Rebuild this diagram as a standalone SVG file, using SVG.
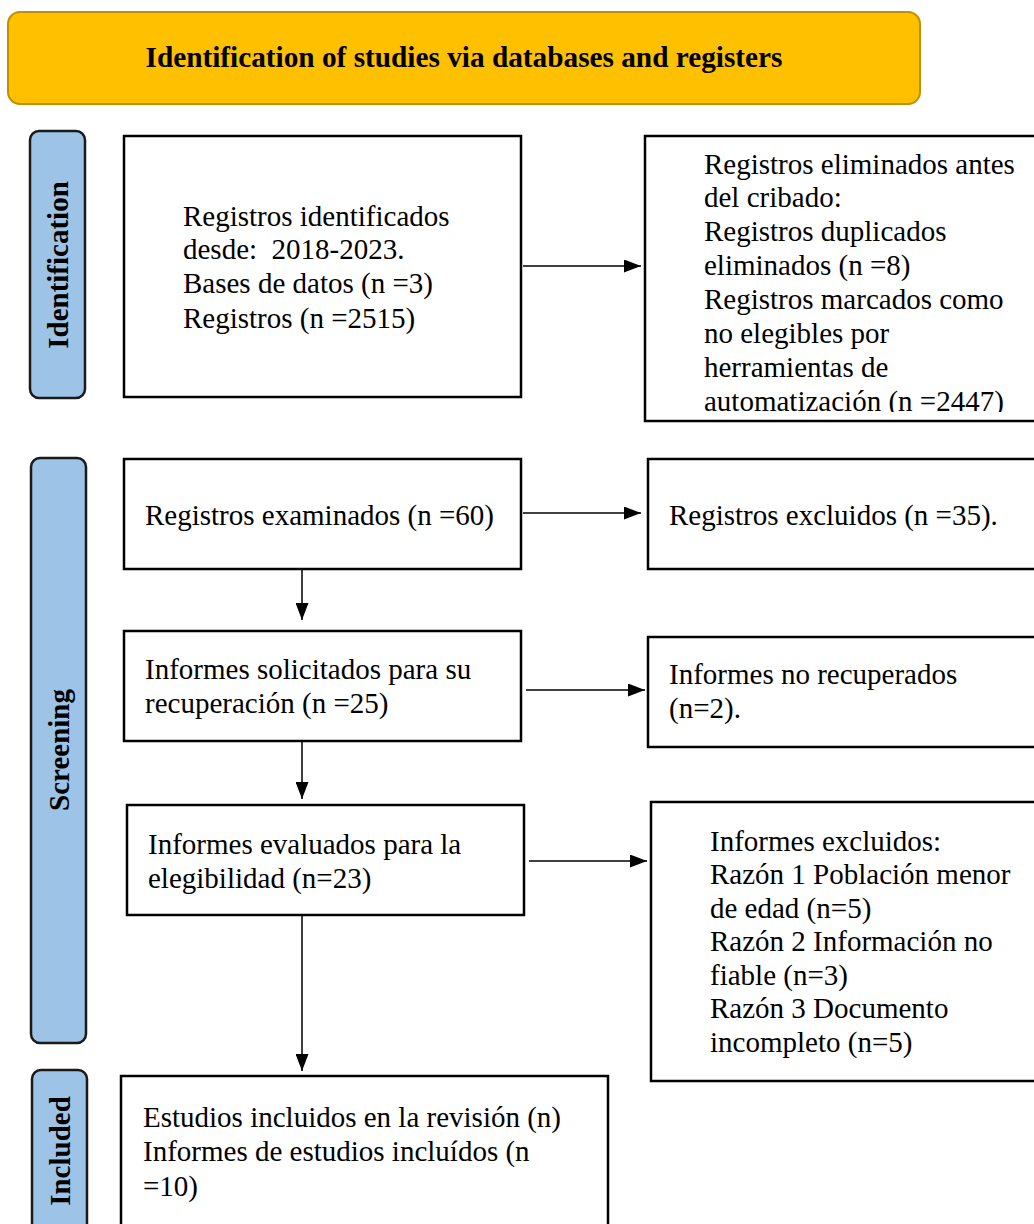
<svg xmlns="http://www.w3.org/2000/svg" width="1034" height="1224" viewBox="0 0 1034 1224">
<style>
.box{fill:#fff;stroke:#000;stroke-width:2.5}
.lab{fill:#9DC3E6;stroke:#1a1a1a;stroke-width:2.5}
.t{font-family:"Liberation Serif","Times New Roman",serif;font-size:29px;fill:#000;white-space:pre}
.lt{font-family:"Liberation Serif","Times New Roman",serif;font-size:29px;font-weight:bold;fill:#000}
.c{stroke:#000;stroke-width:1.5;fill:none}
</style>
<defs>
<marker id="ah" viewBox="0 0 10 10" refX="10" refY="5" markerWidth="17" markerHeight="13" markerUnits="userSpaceOnUse" orient="auto" preserveAspectRatio="none">
<path d="M0,0 L10,5 L0,10 Z" fill="#000"/>
</marker>
<clipPath id="clipR"><rect x="645" y="136" width="400" height="276"/></clipPath>
</defs>
<rect width="1034" height="1224" fill="#fff"/>
<g id="title">
<rect x="8" y="12" width="912" height="92" rx="12" fill="#FFC000" stroke="#BF9000" stroke-width="2"/>
<text class="lt" x="464" y="67" text-anchor="middle" textLength="637" lengthAdjust="spacingAndGlyphs">Identification of studies via databases and registers</text>
</g>
<g id="label-identification">
<rect class="lab" x="30" y="131" width="55" height="267" rx="9"/>
<text class="lt" transform="translate(68,265) rotate(-90)" text-anchor="middle">Identification</text>
</g>
<g id="label-screening">
<rect class="lab" x="31" y="458" width="55" height="585" rx="9"/>
<text class="lt" transform="translate(69,750) rotate(-90)" text-anchor="middle">Screening</text>
</g>
<g id="label-included">
<rect class="lab" x="32" y="1070" width="55" height="170" rx="9"/>
<text class="lt" transform="translate(70,1151) rotate(-90)" text-anchor="middle">Included</text>
</g>
<g id="n-identified">
<rect class="box" x="124" y="136" width="397" height="261"/>
<text class="t" x="183" y="226">Registros identificados</text>
<text class="t" x="183" y="259" xml:space="preserve">desde:  2018-2023.</text>
<text class="t" x="183" y="293">Bases de datos (n =3)</text>
<text class="t" x="183" y="328">Registros (n =2515)</text>
</g>
<g id="n-removed">
<rect class="box" x="645" y="136" width="400" height="285"/>
<g clip-path="url(#clipR)">
<text class="t" x="704" y="174">Registros eliminados antes</text>
<text class="t" x="704" y="207">del cribado:</text>
<text class="t" x="704" y="241">Registros duplicados</text>
<text class="t" x="704" y="275">eliminados (n =8)</text>
<text class="t" x="704" y="309">Registros marcados como</text>
<text class="t" x="704" y="343">no elegibles por</text>
<text class="t" x="704" y="377">herramientas de</text>
<text class="t" x="704" y="411">automatización (n =2447)</text>
</g>
</g>
<g id="n-screened">
<rect class="box" x="124" y="459" width="397" height="110"/>
<text class="t" x="145" y="525">Registros examinados (n =60)</text>
</g>
<g id="n-excluded">
<rect class="box" x="648" y="459" width="400" height="110"/>
<text class="t" x="669" y="525">Registros excluidos (n =35).</text>
</g>
<g id="n-sought">
<rect class="box" x="124" y="631" width="397" height="110"/>
<text class="t" x="145" y="679">Informes solicitados para su</text>
<text class="t" x="145" y="713">recuperación (n =25)</text>
</g>
<g id="n-notretrieved">
<rect class="box" x="648" y="637" width="400" height="110"/>
<text class="t" x="669" y="684">Informes no recuperados</text>
<text class="t" x="669" y="718">(n=2).</text>
</g>
<g id="n-assessed">
<rect class="box" x="127" y="805" width="397" height="110"/>
<text class="t" x="148" y="854">Informes evaluados para la</text>
<text class="t" x="148" y="888">elegibilidad (n=23)</text>
</g>
<g id="n-reportsexcluded">
<rect class="box" x="651" y="802" width="400" height="279"/>
<text class="t" x="710" y="851">Informes excluidos:</text>
<text class="t" x="710" y="884">Razón 1 Población menor</text>
<text class="t" x="710" y="918">de edad (n=5)</text>
<text class="t" x="710" y="951">Razón 2 Información no</text>
<text class="t" x="710" y="985">fiable (n=3)</text>
<text class="t" x="710" y="1018">Razón 3 Documento</text>
<text class="t" x="710" y="1052">incompleto (n=5)</text>
</g>
<g id="n-included">
<rect class="box" x="121" y="1076" width="487" height="170"/>
<text class="t" x="143" y="1127">Estudios incluidos en la revisión (n)</text>
<text class="t" x="143" y="1161">Informes de estudios incluídos (n</text>
<text class="t" x="143" y="1196">=10)</text>
</g>
<g id="connectors">
<line class="c" x1="523" y1="266" x2="641" y2="266" marker-end="url(#ah)"/>
<line class="c" x1="523" y1="513" x2="641" y2="513" marker-end="url(#ah)"/>
<line class="c" x1="526" y1="690" x2="645" y2="690" marker-end="url(#ah)"/>
<line class="c" x1="529" y1="861" x2="647" y2="861" marker-end="url(#ah)"/>
<line class="c" x1="302" y1="570" x2="302" y2="620" marker-end="url(#ah)"/>
<line class="c" x1="302" y1="742" x2="302" y2="799" marker-end="url(#ah)"/>
<line class="c" x1="302" y1="916" x2="302" y2="1071" marker-end="url(#ah)"/>
</g>
</svg>
